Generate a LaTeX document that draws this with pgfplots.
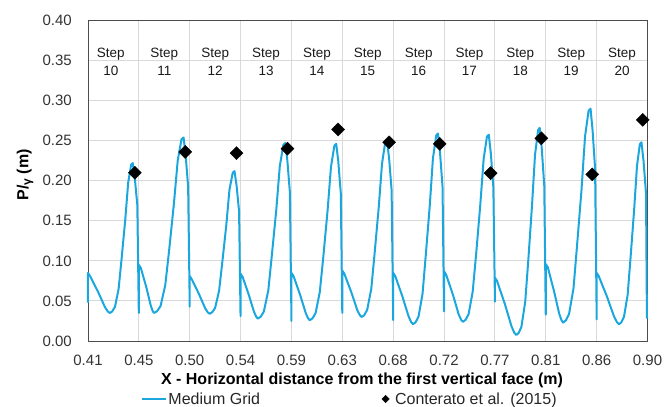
\documentclass[border=0pt]{standalone}
\usepackage{fontspec}
\setmainfont{Liberation Sans}
\usepackage{pgfplots}
\pgfplotsset{compat=1.18}
\definecolor{cfdblue}{HTML}{1BA7DE}
\definecolor{gridgray}{HTML}{D9D9D9}
\tikzset{steplbl/.style={anchor=base, inner sep=0pt, font=\fontsize{13.5}{16}\selectfont, text=black!90}}
\pgfplotsset{linelegend/.style={legend image code/.code={\draw[##1] (0pt,0pt) -- (24pt,0pt);}},
  marklegend/.style={legend image code/.code={\path[draw=none] (0pt,0pt) (12pt,0pt); \draw[##1, mark size=2.6pt] plot coordinates {(4pt,0pt)};}}}
\begin{document}
\begin{tikzpicture}
\path[use as bounding box] (-88pt,-66pt) rectangle (577pt,341pt);
\begin{axis}[
  at={(0pt,0pt)}, anchor=south west,
  scale only axis, width=559.5pt, height=320.5pt,
  xmin=0.41, xmax=0.90, ymin=0, ymax=0.40,
  clip=false,
  xtick={0.41,0.45455,0.49909,0.54364,0.58818,0.63273,0.67727,0.72182,0.76636,0.81091,0.85545,0.90},
  xticklabels={0.41,0.45,0.50,0.54,0.59,0.63,0.68,0.72,0.77,0.81,0.86,0.90},
  ytick={0,0.05,0.10,0.15,0.20,0.25,0.30,0.35,0.40},
  /pgf/number format/assume math mode=true,
  yticklabel style={/pgf/number format/fixed, /pgf/number format/fixed zerofill, /pgf/number format/precision=2, anchor=east, inner sep=0pt, xshift=-16pt},
  xticklabel style={anchor=north, inner sep=0pt, yshift=-14pt},
  tick label style={font=\fontsize{15}{18}\selectfont, text=black!80},
  major tick length=0pt,
  grid=major,
  major grid style={gridgray, line width=0.9pt},
  axis line style={black!70, line width=0.9pt},
  xlabel={X - Horizontal distance from the first vertical face (m)},
  xlabel style={at={(axis description cs:0.4897,0)}, anchor=base, yshift=-44pt, inner sep=0pt, font=\bfseries\fontsize{16}{19}\selectfont},
  ylabel={P/\raisebox{-0.3ex}{\fontsize{12}{12}\selectfont γ} (m)},
  ylabel style={at={(axis description cs:-0.1126,0.518)}, anchor=center, inner sep=0pt, font=\bfseries\fontsize{16}{19}\selectfont},
  legend columns=2,
  legend cell align=left,
  legend style={draw=none, fill=none, at={(axis description cs:0.0947,0)}, anchor=west, yshift=-58pt, inner sep=0pt, outer sep=0pt, font=\fontsize{16}{19}\selectfont, text=black!85, nodes={inner sep=1.5pt}, /tikz/every even column/.append style={column sep=120pt}},
]
\addplot[cfdblue, line width=2pt, line join=round, linelegend] coordinates {
(0.41,0.048)
(0.4100,0.085) (0.4118,0.081) (0.4187,0.0617) (0.4248,0.0424) (0.4274,0.0368) (0.4292,0.035) (0.4312,0.0369) (0.4336,0.0425) (0.4368,0.0649) (0.4394,0.1023) (0.4426,0.1509) (0.4452,0.1977) (0.4478,0.2201) (0.4492,0.222) (0.4510,0.2033) (0.4532,0.1696) (0.4545,0.035)
(0.4545,0.095) (0.4563,0.091) (0.4610,0.0675) (0.4650,0.044) (0.4667,0.0372) (0.4679,0.035) (0.4705,0.0372) (0.4736,0.0438) (0.4777,0.070) (0.4811,0.1138) (0.4852,0.1708) (0.4886,0.2255) (0.4919,0.2518) (0.4937,0.254) (0.4955,0.2321) (0.4977,0.1927) (0.4991,0.043)
(0.4991,0.081) (0.5009,0.077) (0.5071,0.0589) (0.5126,0.0409) (0.5149,0.0357) (0.5165,0.034) (0.5187,0.0358) (0.5213,0.0411) (0.5248,0.0625) (0.5276,0.0981) (0.5311,0.1444) (0.5339,0.1889) (0.5368,0.2102) (0.5383,0.212) (0.5401,0.1942) (0.5423,0.1622) (0.5436,0.031)
(0.5436,0.084) (0.5454,0.080) (0.5507,0.0582) (0.5554,0.0363) (0.5574,0.0301) (0.5588,0.028) (0.5612,0.0302) (0.5640,0.0368) (0.5679,0.063) (0.5710,0.1068) (0.5749,0.1638) (0.5780,0.2185) (0.5811,0.2448) (0.5828,0.247) (0.5846,0.2251) (0.5868,0.1857) (0.5882,0.025)
(0.5882,0.085) (0.5900,0.081) (0.5957,0.0579) (0.6007,0.0348) (0.6028,0.0282) (0.6042,0.026) (0.6066,0.0282) (0.6093,0.0348) (0.6130,0.0612) (0.6161,0.1052) (0.6198,0.1624) (0.6228,0.2174) (0.6258,0.2438) (0.6274,0.246) (0.6292,0.224) (0.6314,0.1844) (0.6327,0.035)
(0.6327,0.088) (0.6345,0.084) (0.6405,0.0613) (0.6458,0.0386) (0.6481,0.0322) (0.6496,0.030) (0.6519,0.0322) (0.6545,0.0388) (0.6581,0.0652) (0.6610,0.1092) (0.6646,0.1664) (0.6675,0.2214) (0.6703,0.2478) (0.6719,0.250) (0.6737,0.228) (0.6759,0.1884) (0.6773,0.026)
(0.6773,0.085) (0.6791,0.081) (0.6853,0.0558) (0.6908,0.0306) (0.6931,0.0234) (0.6947,0.021) (0.6969,0.0234) (0.6995,0.0305) (0.7030,0.0591) (0.7058,0.1067) (0.7093,0.1686) (0.7121,0.2281) (0.7150,0.2566) (0.7165,0.259) (0.7183,0.2352) (0.7205,0.1924) (0.7218,0.037)
(0.7218,0.087) (0.7236,0.083) (0.7295,0.0582) (0.7346,0.0334) (0.7368,0.0264) (0.7383,0.024) (0.7406,0.0263) (0.7433,0.0333) (0.7469,0.0614) (0.7499,0.1081) (0.7535,0.1688) (0.7565,0.2271) (0.7594,0.2552) (0.7610,0.2575) (0.7628,0.2342) (0.7650,0.1921) (0.7664,0.049)
(0.7664,0.079) (0.7682,0.075) (0.7750,0.0466) (0.7809,0.0183) (0.7834,0.0102) (0.7851,0.0075) (0.7872,0.0101) (0.7896,0.0178) (0.7929,0.0489) (0.7956,0.1006) (0.7988,0.1678) (0.8015,0.2324) (0.8042,0.2634) (0.8056,0.266) (0.8074,0.2402) (0.8096,0.1936) (0.8109,0.033)
(0.8109,0.096) (0.8127,0.092) (0.8180,0.063) (0.8227,0.034) (0.8247,0.0258) (0.8261,0.023) (0.8285,0.0257) (0.8313,0.0337) (0.8352,0.0657) (0.8383,0.1191) (0.8422,0.1885) (0.8453,0.2553) (0.8484,0.2873) (0.8501,0.290) (0.8519,0.2633) (0.8541,0.2152) (0.8555,0.027)
(0.8555,0.085) (0.8573,0.081) (0.8644,0.0558) (0.8707,0.0306) (0.8733,0.0234) (0.8751,0.021) (0.8771,0.0233) (0.8794,0.0301) (0.8826,0.0573) (0.8851,0.1027) (0.8882,0.1617) (0.8908,0.2185) (0.8933,0.2457) (0.8947,0.248) (0.8965,0.2253) (0.8987,0.1844) (0.8995,0.028)
};
\addlegendentry{Medium Grid}
\addplot[only marks, mark=square*, mark size=4.6pt, mark options={rotate=45, fill=black, draw=black}, marklegend] coordinates {
(0.4511,0.210) (0.4951,0.236) (0.5401,0.2345) (0.5847,0.240) (0.6290,0.264) (0.6737,0.248) (0.7180,0.246) (0.7626,0.2095) (0.8070,0.253) (0.8516,0.208) (0.8959,0.276)
};
\addlegendentry{Conterato et al. (2015)}
\node[steplbl] at (axis cs:0.4300,0.354) {Step};
\node[steplbl] at (axis cs:0.4300,0.331) {10};
\node[steplbl] at (axis cs:0.4768,0.354) {Step};
\node[steplbl] at (axis cs:0.4768,0.331) {11};
\node[steplbl] at (axis cs:0.5214,0.354) {Step};
\node[steplbl] at (axis cs:0.5214,0.331) {12};
\node[steplbl] at (axis cs:0.5659,0.354) {Step};
\node[steplbl] at (axis cs:0.5659,0.331) {13};
\node[steplbl] at (axis cs:0.6105,0.354) {Step};
\node[steplbl] at (axis cs:0.6105,0.331) {14};
\node[steplbl] at (axis cs:0.6550,0.354) {Step};
\node[steplbl] at (axis cs:0.6550,0.331) {15};
\node[steplbl] at (axis cs:0.6996,0.354) {Step};
\node[steplbl] at (axis cs:0.6996,0.331) {16};
\node[steplbl] at (axis cs:0.7441,0.354) {Step};
\node[steplbl] at (axis cs:0.7441,0.331) {17};
\node[steplbl] at (axis cs:0.7886,0.354) {Step};
\node[steplbl] at (axis cs:0.7886,0.331) {18};
\node[steplbl] at (axis cs:0.8332,0.354) {Step};
\node[steplbl] at (axis cs:0.8332,0.331) {19};
\node[steplbl] at (axis cs:0.8777,0.354) {Step};
\node[steplbl] at (axis cs:0.8777,0.331) {20};
\end{axis}
\end{tikzpicture}
\end{document}
